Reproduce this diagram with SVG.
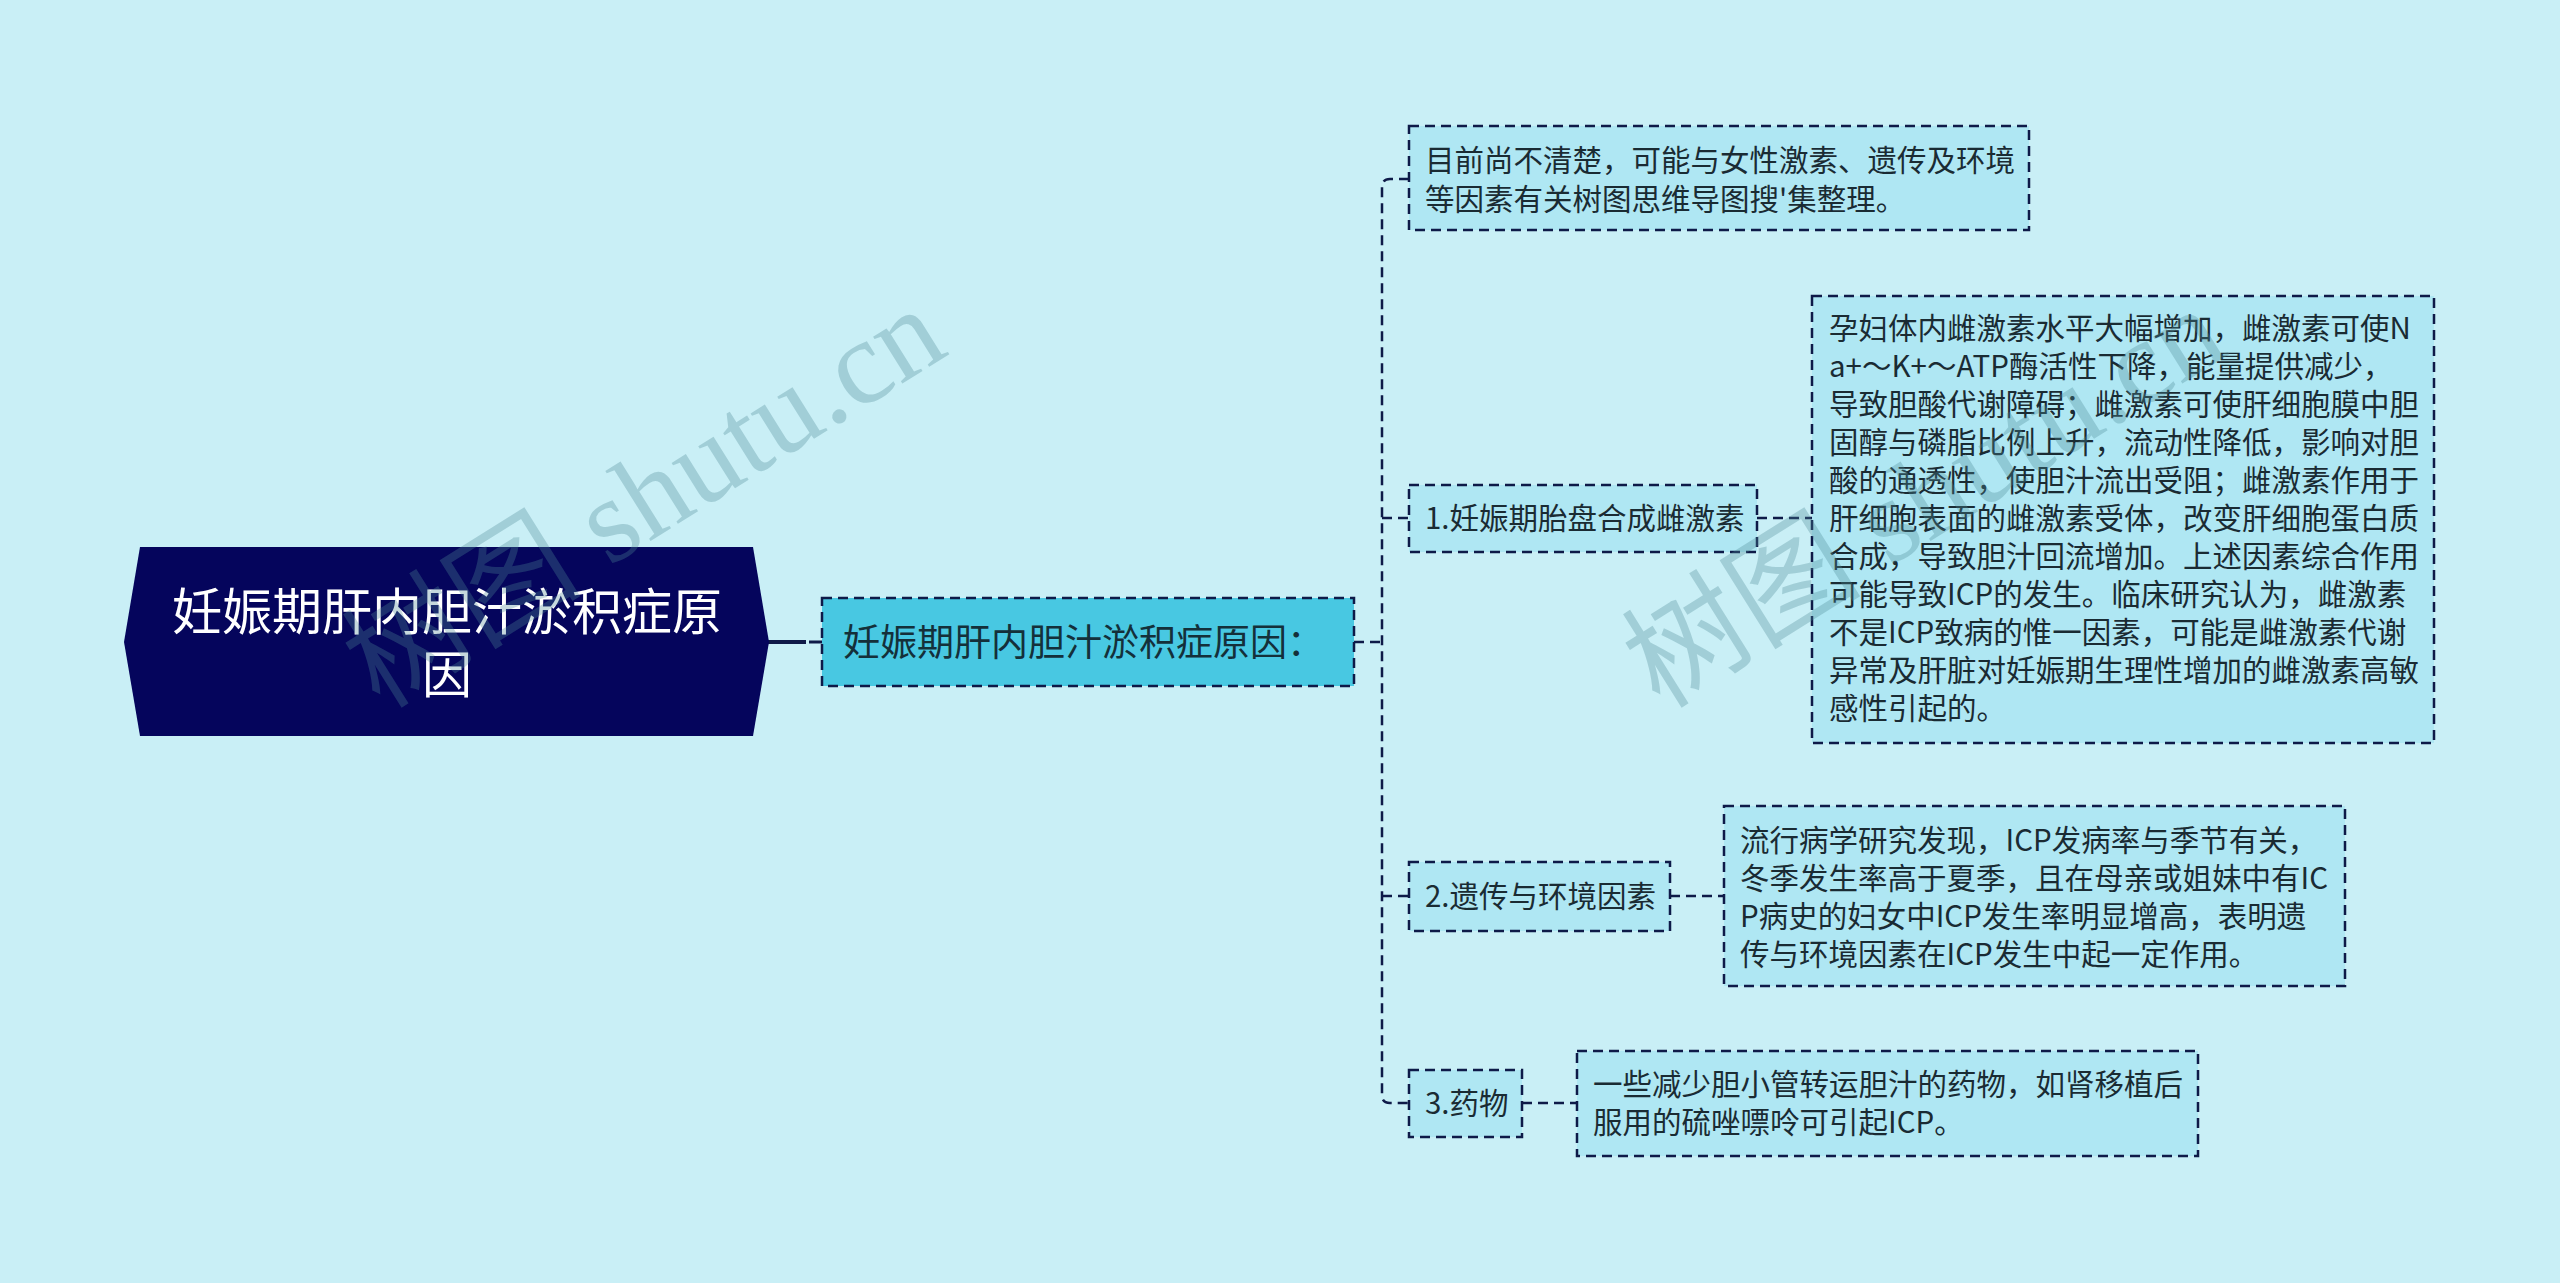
<svg xmlns="http://www.w3.org/2000/svg" width="2560" height="1283" viewBox="0 0 2560 1283">
<style>
.bg{fill:#C9EFF6}
.root{fill:#05055C}
.rt{fill:#FFFFFF;font-family:"Noto Sans CJK SC","Noto Sans",sans-serif;font-size:50px;text-anchor:middle}
.main{fill:#48C8E2;stroke:#0E1A48;stroke-width:2.5;stroke-dasharray:10 6}
.mt{fill:#14303A;font-family:"Noto Sans CJK SC","Noto Sans",sans-serif;font-size:37px}
.box{fill:#AFE7F3;stroke:#0E1A48;stroke-width:2.5;stroke-dasharray:10 6}
.t{fill:#1A2B33;font-family:"Noto Sans CJK SC","Noto Sans",sans-serif;font-size:29.5px}
.con{fill:none;stroke:#0E1A48;stroke-width:2.5;stroke-dasharray:10 6}
.wm{fill:#4E8894;fill-opacity:0.32;font-family:"Liberation Serif","Noto Sans CJK SC",serif;font-size:120px}
</style>
<rect class="bg" x="0" y="0" width="2560" height="1283"/>

<g id="connectors">
  <line x1="768" y1="642" x2="806" y2="642" stroke="#0E1A48" stroke-width="4"/>
  <line x1="809" y1="642" x2="822" y2="642" stroke="#0E1A48" stroke-width="3"/>
  <path class="con" d="M1354,642 H1382"/>
  <path class="con" d="M1409,179 H1390 Q1382,179 1382,187 V1095 Q1382,1103 1390,1103 H1409"/>
  <path class="con" d="M1382,518 H1409"/>
  <path class="con" d="M1382,896 H1409"/>
  <path class="con" d="M1757,518 H1812"/>
  <path class="con" d="M1670,896 H1724"/>
  <path class="con" d="M1522,1103 H1577"/>
</g>

<g id="root">
  <polygon class="root" points="124,642 140,547 753,547 769,642 753,736 140,736"/>
  <text class="rt" x="447" y="630">妊娠期肝内胆汁淤积症原</text>
  <text class="rt" x="447" y="693">因</text>
</g>

<g id="main">
  <rect class="main" x="822" y="598" width="532" height="88"/>
  <text class="mt" x="843" y="656">妊娠期肝内胆汁淤积症原因：</text>
</g>

<g id="top-box">
  <rect class="box" x="1409" y="126" width="620" height="104"/>
  <text class="t" x="1425" y="171">目前尚不清楚，可能与女性激素、遗传及环境</text>
  <text class="t" x="1425" y="210">等因素有关树图思维导图搜'集整理。</text>
</g>

<g id="n1">
  <rect class="box" x="1409" y="485" width="348" height="67"/>
  <text class="t" x="1425" y="529">1.妊娠期胎盘合成雌激素</text>
</g>

<g id="n1-detail">
  <rect class="box" x="1812" y="296" width="622" height="447"/>
  <text class="t" x="1829" y="339">孕妇体内雌激素水平大幅增加，雌激素可使N</text>
  <text class="t" x="1829" y="377">a+～K+～ATP酶活性下降，能量提供减少，</text>
  <text class="t" x="1829" y="415">导致胆酸代谢障碍；雌激素可使肝细胞膜中胆</text>
  <text class="t" x="1829" y="453">固醇与磷脂比例上升，流动性降低，影响对胆</text>
  <text class="t" x="1829" y="491">酸的通透性，使胆汁流出受阻；雌激素作用于</text>
  <text class="t" x="1829" y="529">肝细胞表面的雌激素受体，改变肝细胞蛋白质</text>
  <text class="t" x="1829" y="567">合成，导致胆汁回流增加。上述因素综合作用</text>
  <text class="t" x="1829" y="605">可能导致ICP的发生。临床研究认为，雌激素</text>
  <text class="t" x="1829" y="643">不是ICP致病的惟一因素，可能是雌激素代谢</text>
  <text class="t" x="1829" y="681">异常及肝脏对妊娠期生理性增加的雌激素高敏</text>
  <text class="t" x="1829" y="719">感性引起的。</text>
</g>

<g id="n2">
  <rect class="box" x="1409" y="862" width="261" height="69"/>
  <text class="t" x="1425" y="907">2.遗传与环境因素</text>
</g>

<g id="n2-detail">
  <rect class="box" x="1724" y="806" width="621" height="180"/>
  <text class="t" x="1740" y="851">流行病学研究发现，ICP发病率与季节有关，</text>
  <text class="t" x="1740" y="889">冬季发生率高于夏季，且在母亲或姐妹中有IC</text>
  <text class="t" x="1740" y="927">P病史的妇女中ICP发生率明显增高，表明遗</text>
  <text class="t" x="1740" y="965">传与环境因素在ICP发生中起一定作用。</text>
</g>

<g id="n3">
  <rect class="box" x="1409" y="1070" width="113" height="67"/>
  <text class="t" x="1425" y="1114">3.药物</text>
</g>

<g id="n3-detail">
  <rect class="box" x="1577" y="1051" width="621" height="105"/>
  <text class="t" x="1593" y="1095">一些减少胆小管转运胆汁的药物，如肾移植后</text>
  <text class="t" x="1593" y="1133">服用的硫唑嘌呤可引起ICP。</text>
</g>

<g id="watermarks">
  <text class="wm" transform="translate(380,710) rotate(-32)">树图 shutu.cn</text>
  <text class="wm" transform="translate(1660,710) rotate(-32)">树图 shutu.cn</text>
</g>
</svg>
